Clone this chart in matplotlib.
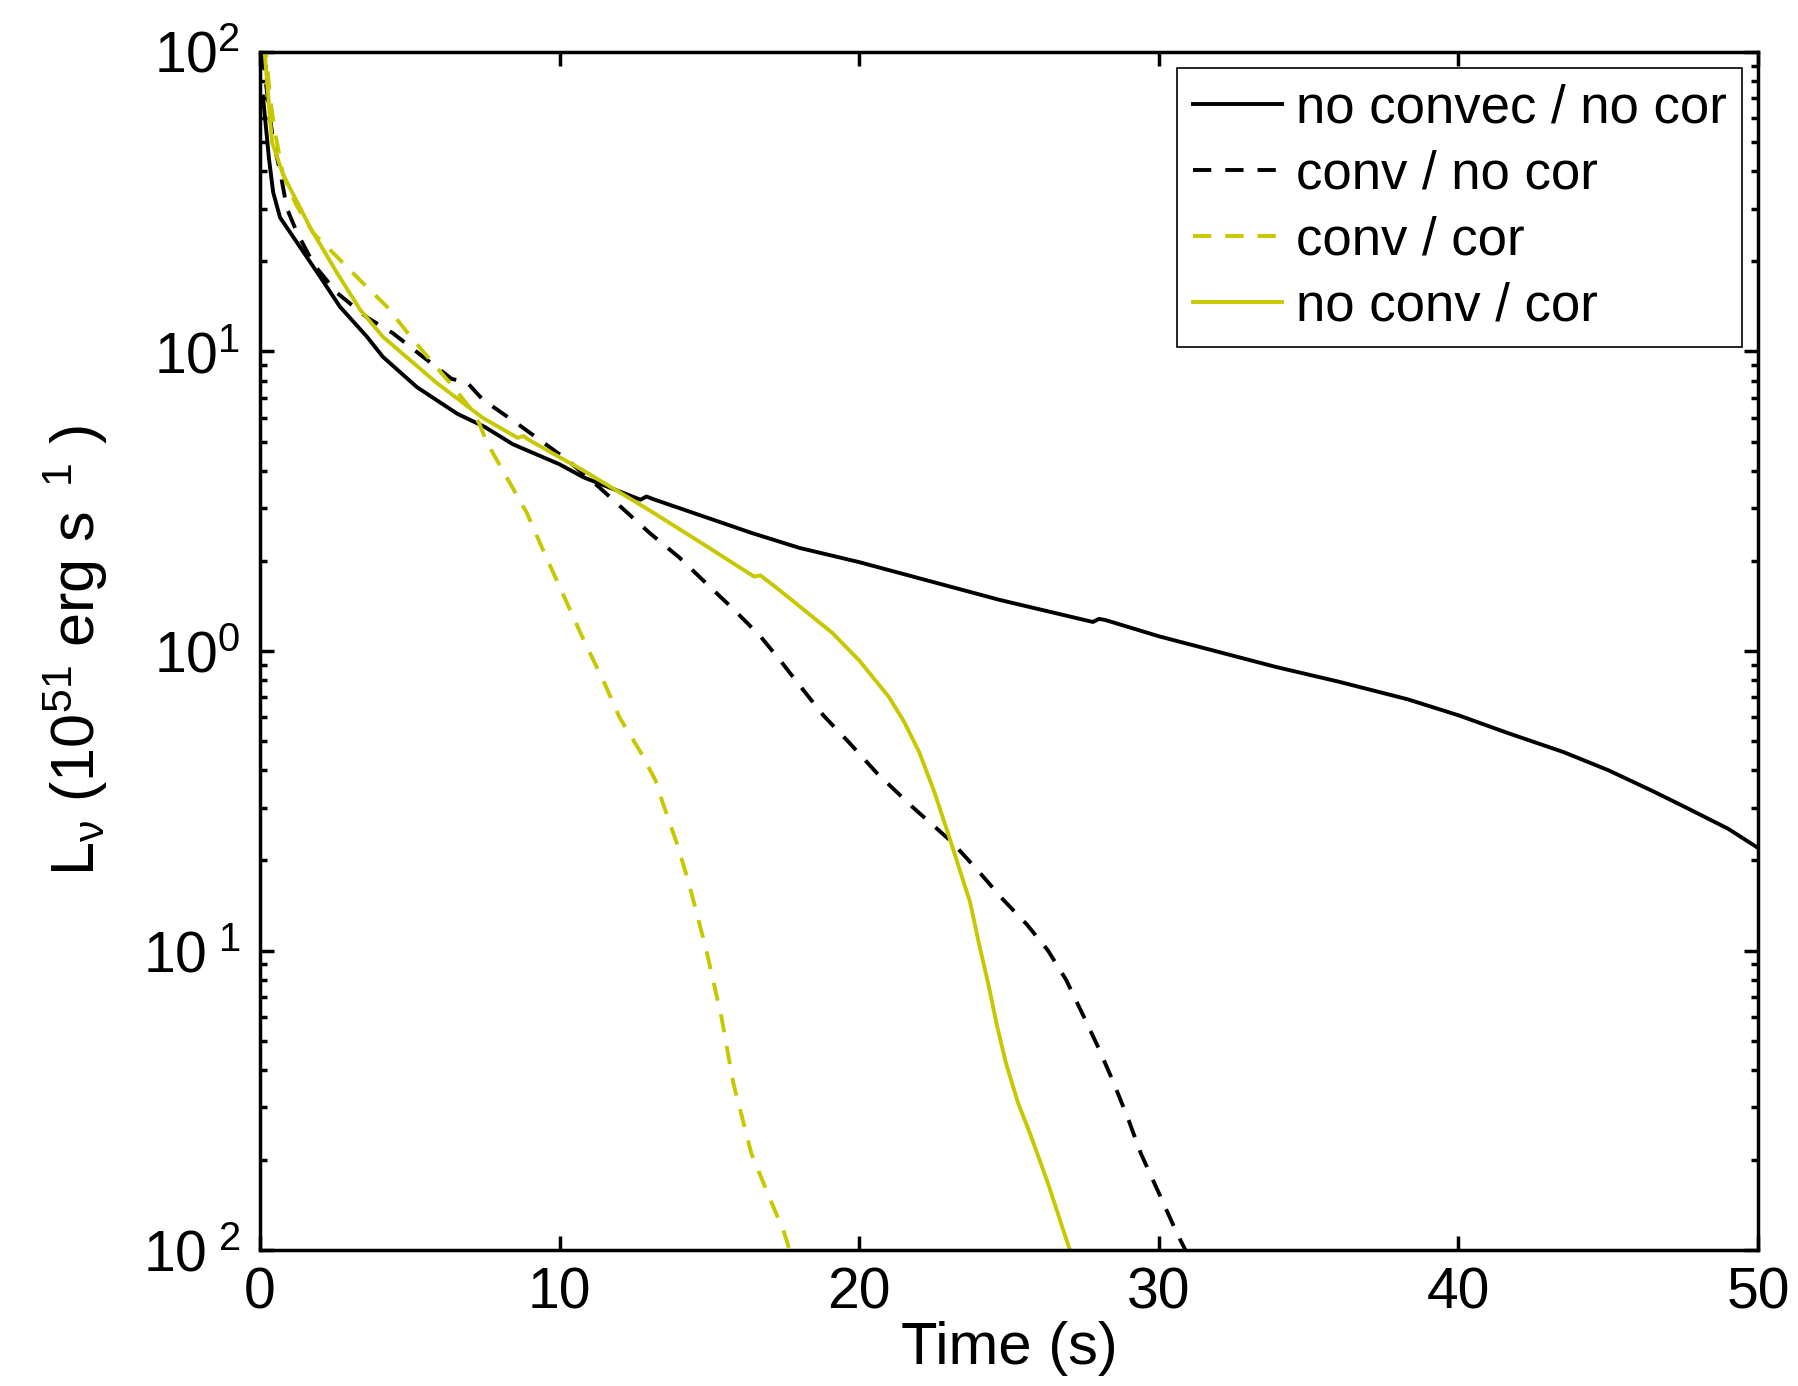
import numpy as np
import matplotlib
matplotlib.use("Agg")
import matplotlib.pyplot as plt
from matplotlib.ticker import LogLocator, NullFormatter

plt.rcParams['font.family'] = ['Liberation Sans', 'DejaVu Sans']
plt.rcParams['mathtext.fontset'] = 'custom'
plt.rcParams['mathtext.rm'] = 'Liberation Sans'
plt.rcParams['mathtext.it'] = 'Liberation Sans:italic'
plt.rcParams['mathtext.bf'] = 'Liberation Sans:bold'

# no convec / no cor
t_a = [0.1, 0.17, 0.3, 0.44, 0.67, 1.34, 2.0, 2.67, 3.57, 4.1, 5.24, 6.58, 7.5, 8.44,
       10.0, 10.8, 12.7, 12.9, 13.1, 16.4, 18.0, 20.0, 24.7, 27.8, 28.0, 28.2, 30.0,
       33.9, 36.0, 38.3, 40.0, 41.7, 43.5, 45.0, 46.5, 47.6, 49.0, 50.0]
L_a = [71, 60, 44, 34, 28, 22.3, 17.8, 14.1, 11.2, 9.6, 7.6, 6.2, 5.6, 4.9,
       4.2, 3.8, 3.2, 3.28, 3.22, 2.48, 2.21, 1.98, 1.48, 1.25, 1.28, 1.27, 1.12,
       0.885, 0.79, 0.69, 0.61, 0.53, 0.46, 0.40, 0.34, 0.30, 0.255, 0.22]

# conv / no cor
t_b = [0.08, 0.17, 0.43, 0.67, 0.9, 1.23, 1.8, 2.57, 3.57, 4.44, 5.44, 6.4, 6.9, 7.44,
       8.58, 10.25, 11.35, 13.0, 14.0, 14.9, 15.8, 16.7, 17.4, 18.0, 18.8, 19.7, 20.6,
       21.8, 23.1, 24.0, 24.8, 25.6, 26.3, 26.9, 27.5, 28.0, 28.5, 29.0, 29.4, 30.0,
       30.6, 31.0]
L_b = [100, 83, 51, 40, 30, 25, 19.5, 15.7, 13.0, 11.5, 9.6, 8.1, 7.9, 6.9,
       5.75, 4.35, 3.5, 2.48, 2.05, 1.68, 1.38, 1.12, 0.92, 0.77, 0.61, 0.49, 0.39,
       0.30, 0.23, 0.183, 0.148, 0.122, 0.10, 0.080, 0.060, 0.047, 0.036, 0.027, 0.021, 0.0155,
       0.0114, 0.0095]

# conv / cor
t_c = [0.1, 0.23, 0.33, 0.5, 0.77, 1.2, 1.77, 2.57, 3.44, 4.24, 5.0, 5.67, 6.34, 7.0,
       7.3, 7.58, 8.3, 8.9, 9.45, 10.2, 10.8, 11.5, 12.0, 12.7, 13.2, 13.4, 13.9, 14.3,
       14.9, 15.4, 15.8, 16.4, 17.0, 17.5, 17.7]
L_c = [110, 94, 71, 54, 39, 31, 24.9, 20.7, 16.9, 14.1, 11.3, 9.4, 7.85, 6.5,
       5.8, 4.95, 3.7, 2.9, 2.17, 1.48, 1.09, 0.78, 0.60, 0.46, 0.37, 0.32, 0.23, 0.17,
       0.10, 0.06, 0.036, 0.021, 0.015, 0.0114, 0.0098]

# no conv / cor
t_d = [0.1, 0.17, 0.4, 0.77, 1.67, 2.57, 3.34, 4.1, 5.9, 7.44, 8.6, 8.8, 9.0, 10.8,
       13.0, 14.6, 16.5, 16.7, 17.5, 18.2, 19.1, 20.0, 21.0, 21.5, 22.0, 22.5, 23.0,
       23.4, 23.7, 24.0, 24.3, 24.6, 24.9, 25.3, 25.7, 26.3, 27.0, 27.2]
L_d = [110, 96, 50, 39, 26, 18.3, 13.8, 11.2, 7.85, 6.0, 5.15, 5.22, 5.05, 4.0,
       2.95, 2.34, 1.77, 1.79, 1.55, 1.36, 1.15, 0.93, 0.70, 0.58, 0.46, 0.34, 0.24,
       0.18, 0.145, 0.105, 0.078, 0.056, 0.042, 0.031, 0.0245, 0.0167, 0.0102, 0.0093]

labels = ['no convec / no cor', 'conv / no cor', 'conv / cor', 'no conv / cor']
xticks = [0, 10, 20, 30, 40, 50]
yticks = [1e-2, 1e-1, 1e0, 1e1, 1e2]
ytick_labels = [r'$10^{\ 2}$', r'$10^{\ 1}$', r'$10^{0}$', r'$10^{1}$', r'$10^{2}$']

yel = '#c8c800'
lw = 2.8
dash = (4.7, 3.6)

fig = plt.figure(figsize=(17.98, 13.86), dpi=100)
ax = fig.add_axes([0.1446, 0.0981, 0.8332, 0.8644])

ax.plot(t_a, L_a, color='k', lw=lw, label=labels[0])
ax.plot(t_b, L_b, color='k', lw=lw, dashes=dash, label=labels[1])
ax.plot(t_c, L_c, color=yel, lw=lw, dashes=dash, label=labels[2])
ax.plot(t_d, L_d, color=yel, lw=lw, label=labels[3])

ax.set_yscale('log')
ax.set_xlim(0, 50)
ax.set_ylim(1e-2, 1e2)
ax.set_xticks(xticks)
ax.set_yticks(yticks)
ax.set_yticklabels(ytick_labels)
ax.yaxis.set_minor_locator(LogLocator(base=10, subs=np.arange(2, 10)))
ax.yaxis.set_minor_formatter(NullFormatter())

for s in ax.spines.values():
    s.set_linewidth(2.5)
ax.tick_params(which='both', direction='in', top=True, right=True, width=2.5)
ax.tick_params(which='major', length=10, labelsize=41)
ax.tick_params(which='minor', length=5)
ax.tick_params(axis='x', pad=12)
ax.tick_params(axis='y', pad=14)

ax.set_xlabel('Time (s)', fontsize=43, labelpad=0)
ax.set_ylabel(r'L$_{\mathregular{ν}}$ (10$^{51}$ erg s$^{\ \ 1}$ )', fontsize=44, labelpad=24)

leg = ax.legend(loc='upper right', fontsize=38, frameon=True, fancybox=False,
                edgecolor='k', framealpha=1, borderaxespad=0.3, borderpad=0.3,
                handlelength=1.7, handletextpad=0.25, labelspacing=0.3)
leg.get_frame().set_linewidth(1.2)

fig.savefig('out.png', dpi=100)
